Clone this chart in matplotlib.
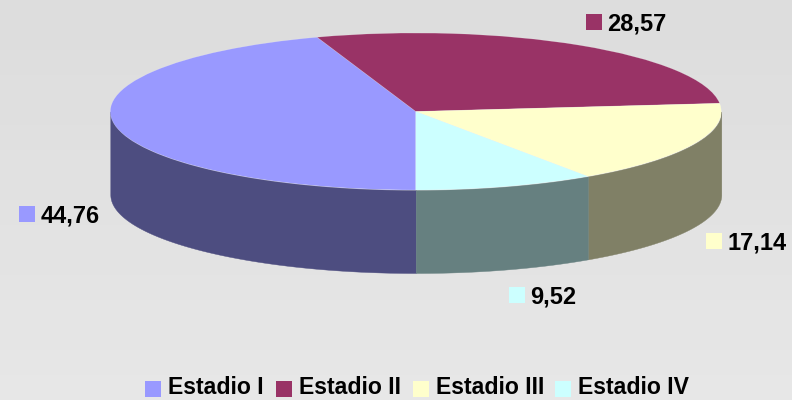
import numpy as np
import matplotlib
matplotlib.use('Agg')
import matplotlib.pyplot as plt
from matplotlib.patches import Rectangle

plt.rcParams['font.family'] = ['Liberation Sans', 'DejaVu Sans']

categories = ['Estadio I', 'Estadio II', 'Estadio III', 'Estadio IV']
values = [44.76, 28.57, 17.14, 9.52]
value_labels = ['44,76', '28,57', '17,14', '9,52']
colors = ['#9999FF', '#993366', '#FFFFCC', '#CCFFFF']
side_colors = ['#4D4D80', '#4D1A33', '#808066', '#668080']

W, H = 792, 400
cx, cy, rx, ry, depth = 415.8, 111.5, 305.5, 78.5, 83.0

fig = plt.figure(figsize=(W / 100, H / 100), dpi=100)

# pixel axes for background, labels and legend
bg = fig.add_axes([0, 0, 1, 1], zorder=0)
bg.set_xlim(0, W)
bg.set_ylim(H, 0)
bg.axis('off')
grad = np.linspace(0, 1, 16).reshape(-1, 1)
bg.imshow(grad, extent=[0, W, H, 0], aspect='auto', cmap=matplotlib.colors.LinearSegmentedColormap.from_list('g', ['#DDDDDD', '#E7E7E7']), interpolation='nearest')

# pie axes, radius 1 is the ellipse
ax = fig.add_axes([0, 0, 1, 1], zorder=1)
ax.patch.set_alpha(0)
start = 270
ax.pie(values, colors=colors, startangle=start, counterclock=False, radius=1,
       wedgeprops={'linewidth': 0.4, 'edgecolor': '#FFFFFF40', 'zorder': 3})
ax.set_aspect('auto')
ax.set_xlim(-cx / rx, (W - cx) / rx)
ax.set_ylim(-(H - cy) / ry, cy / ry)

# side wall of the lower half
d = depth / ry
edges = start - np.cumsum([0] + values) * 360 / sum(values)
for i in range(len(values)):
    a0, a1 = edges[i + 1], edges[i]
    # only the part under the centre line shows
    for lo, hi in [(-180, 0), (180, 360)]:
        s, e = max(a0, lo), min(a1, hi)
        if e > s:
            t = np.radians(np.linspace(s, e, 200))
            ax.fill_between(np.cos(t), np.sin(t) - d, np.sin(t), color=side_colors[i], lw=0.3, zorder=2)

# data labels
label_pos = [(19, 206), (586, 14), (706, 233), (509, 287)]
for (x, y), lab, c in zip(label_pos, value_labels, colors):
    bg.add_patch(Rectangle((x, y), 16, 16, fc=c, ec='none', zorder=5))
    bg.text(x + 21.5, y + 10, lab, fontsize=17, fontweight='bold', va='center', ha='left', zorder=5)

# legend, baseline kept a little high so the text stays inside the figure
leg_x = [145, 276, 413, 555]
for x, name, c in zip(leg_x, categories, colors):
    bg.add_patch(Rectangle((x, 381), 16, 16, fc=c, ec='none', zorder=5))
    bg.text(x + 23, 394.5, name, fontsize=16.6, fontweight='bold', va='baseline', ha='left', zorder=5)

fig.savefig('out.png', dpi=100)
